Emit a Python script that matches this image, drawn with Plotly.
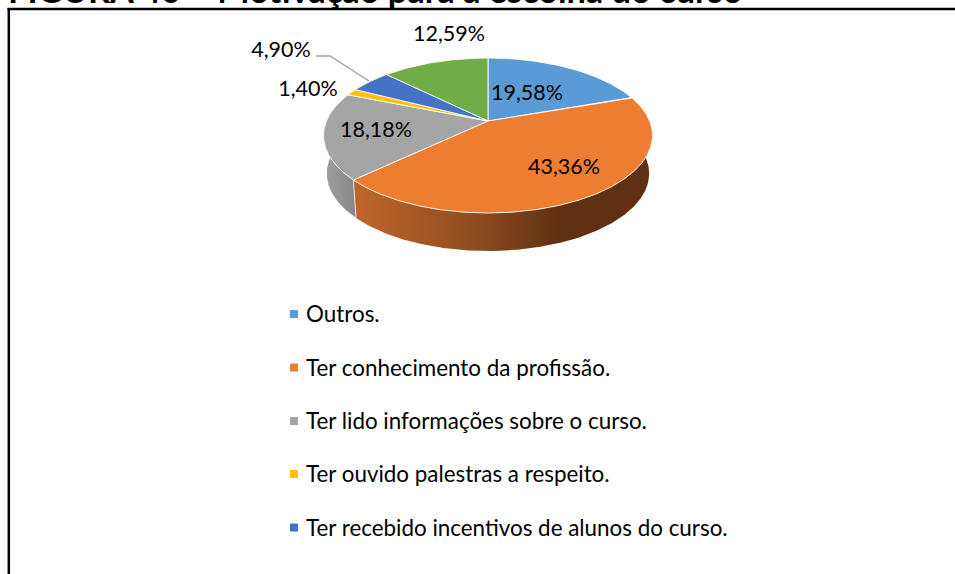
import numpy as np
import plotly.graph_objects as go

categories = ["Outros.", "Ter conhecimento da profissão.", "Ter lido informações sobre o curso.",
              "Ter ouvido palestras a respeito.", "Ter recebido incentivos de alunos do curso.", ""]
values = [19.58, 43.36, 18.18, 1.40, 4.90, 12.59]
labels = ["19,58%", "43,36%", "18,18%", "1,40%", "4,90%", "12,59%"]
colors = ["#5B9BD5", "#ED7D31", "#A5A5A5", "#FFC000", "#4472C4", "#70AD47"]
title = "FIGURA 40 – Motivação para a escolha do curso"

W, H = 955, 574
CX, CY = 488, 121           # apex of the pie on the page
R, SY, K = 161.6, 74.8, 0.187   # perspective projection of the rim
DEPTH, BOTTOM_SCALE = 38, 0.98
FONT = "Lato"


def rim(deg, depth=0.0, scale=1.0):
    t = np.radians(deg)
    den = 1 + K * np.cos(t)
    return (CX + scale * R * np.sin(t) / den, CY + depth - SY * np.cos(t) / den)


def wedge(a0, a1):
    t = np.linspace(a0, a1, max(int(a1 - a0) * 2, 4))
    x, y = rim(t)
    return [CX, *x, CX], [CY, *y, CY]


def side(a0, a1):
    t = np.linspace(a0, a1, max(int(a1 - a0) * 2, 4))
    x0, y0 = rim(t)
    x1, y1 = rim(t[::-1], DEPTH, BOTTOM_SCALE)
    return [*x0, *x1, x0[0]], [*y0, *y1, y0[0]]


edges = np.concatenate([[0], np.cumsum(values)]) / sum(values) * 360
fig = go.Figure()

# side walls: only orange and gray face the viewer
x, y = side(edges[1], edges[2])
fig.add_trace(go.Scatter(
    x=x, y=y, mode="lines", line=dict(width=0), fill="toself", hoverinfo="skip",
    fillgradient=dict(type="horizontal", start=355, stop=650,
                      colorscale=[[0, "#C0652A"], [0.4, "#8F4D20"], [0.7, "#5F3012"], [1, "#5F3012"]]),
))
x, y = side(edges[2], 282)
fig.add_trace(go.Scatter(
    x=x, y=y, mode="lines", line=dict(width=0), fill="toself", hoverinfo="skip",
    fillgradient=dict(type="horizontal", start=324, stop=358,
                      colorscale=[[0, "#A0A0A0"], [1, "#858585"]]),
))
x0, y0 = rim(edges[2]); x1, y1 = rim(edges[2], DEPTH, BOTTOM_SCALE)
fig.add_trace(go.Scatter(x=[x0, x1], y=[y0, y1], mode="lines", hoverinfo="skip",
                         line=dict(color="#E8E8E8", width=1)))

# top faces
for i, c in enumerate(colors):
    x, y = wedge(edges[i], edges[i + 1])
    fig.add_trace(go.Scatter(x=x, y=y, mode="lines", fill="toself", fillcolor=c, name=categories[i],
                             line=dict(color="rgba(255,255,255,0.85)", width=1)))

# leader line of the 4,90% label
fig.add_trace(go.Scatter(x=[316, 330, 369], y=[56, 56, 81], mode="lines", hoverinfo="skip",
                         line=dict(color="#A0A0A0", width=1.3)))

# data labels
label_x = [527, 564, 376, 308, 281, 449]
label_y = [95, 169, 132, 91, 52, 36]
fig.add_trace(go.Scatter(x=label_x, y=label_y, mode="text", text=labels, hoverinfo="skip",
                         textfont=dict(family=FONT, size=21.5, color="#000")))

# legend
leg_y = [314, 367.5, 421, 474, 527.5]
text_y = [316.5, 370, 423.5, 476.5, 530]
fig.add_trace(go.Scatter(x=[294] * 5, y=leg_y, mode="markers", hoverinfo="skip",
                         marker=dict(symbol="square", size=8, color=colors[:5], line=dict(width=0))))
fig.add_trace(go.Scatter(x=[306] * 5, y=text_y, mode="text", text=categories[:5], textposition="middle right",
                         hoverinfo="skip", textfont=dict(family=FONT, size=22.4, color="#000")))

fig.add_annotation(x=6, y=0, xref="x", yref="y", xanchor="left", yanchor="bottom", yshift=-12,
                   text=f"<b>{title}</b>", showarrow=False, font=dict(family=FONT, size=34.3, color="#000"))

fig.update_layout(
    width=W, height=H, margin=dict(l=0, r=0, t=0, b=0), showlegend=False,
    paper_bgcolor="#fff", plot_bgcolor="#fff",
    xaxis=dict(range=[0, W], visible=False, fixedrange=True),
    yaxis=dict(range=[H, 0], visible=False, fixedrange=True),
    shapes=[
        dict(type="line", x0=7.5, x1=W + 5, y0=9, y1=9, line=dict(color="#000", width=2.5)),
        dict(type="line", x0=8.8, x1=8.8, y0=8, y1=H + 5, line=dict(color="#000", width=2.5)),
    ],
)
fig.write_html("out.html", config={"displayModeBar": False},
               post_script="document.body.style.margin='0';document.body.style.overflow='hidden';")
